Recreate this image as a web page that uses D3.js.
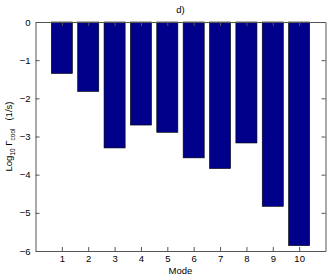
<!DOCTYPE html>
<html>
<head>
<meta charset="utf-8">
<script src="https://cdn.jsdelivr.net/npm/d3@7"></script>
<style>
  body { margin: 0; background: #fff; }
  text { font-family: "Liberation Sans", Arial, sans-serif; fill: #000; }
</style>
</head>
<body>
<svg id="chart" width="327" height="277"></svg>
<script>
// mode numbers and log10 cooling rates
const modes = [1, 2, 3, 4, 5, 6, 7, 8, 9, 10];
const logRates = [-1.35, -1.82, -3.30, -2.70, -2.89, -3.56, -3.84, -3.17, -4.83, -5.86];
const yTicks = [0, -1, -2, -3, -4, -5, -6];

const svg = d3.select("#chart");
const m = { left: 35.5, right: 1.5, top: 22, bottom: 26 };
const W = 327, H = 277;

const x = d3.scaleLinear().domain([0, 11]).range([m.left, W - m.right]);
const y = d3.scaleLinear().domain([-6, 0]).range([H - m.bottom, m.top]);

const data = modes.map((d, i) => ({ mode: d, v: logRates[i] }));
const bw = (x(1) - x(0)) * 0.8;

// bars
svg.append("g").selectAll("rect")
  .data(data)
  .enter()
  .append("rect")
  .attr("x", d => x(d.mode) - bw / 2)
  .attr("y", y(0))
  .attr("width", bw)
  .attr("height", d => y(d.v) - y(0))
  .attr("fill", "#00008a")
  .attr("stroke", "#000")
  .attr("stroke-width", 0.6);

// axes (ticks inward, like matlab)
const axL = d3.axisLeft(y).tickValues(yTicks).tickSizeInner(-4).tickSizeOuter(0).tickPadding(5)
  .tickFormat(d => d === 0 ? "0" : "\u2212" + Math.abs(d));
svg.append("g").attr("transform", `translate(${m.left},0)`).call(axL);

const axR = d3.axisRight(y).tickValues(yTicks).tickSizeInner(-4).tickSizeOuter(0).tickFormat("");
svg.append("g").attr("transform", `translate(${W - m.right},0)`).call(axR);

const axB = d3.axisBottom(x).tickValues(modes).tickSizeInner(-4).tickSizeOuter(0).tickPadding(4);
svg.append("g").attr("transform", `translate(0,${H - m.bottom})`).call(axB);

const axT = d3.axisTop(x).tickValues(modes).tickSizeInner(-4).tickSizeOuter(0).tickFormat("");
svg.append("g").attr("transform", `translate(0,${m.top})`).call(axT);

svg.selectAll(".domain").attr("stroke", "#555");
svg.selectAll(".tick line").attr("stroke", "#555");
svg.selectAll(".tick text").attr("font-size", 9.5).attr("font-family", "Liberation Sans, Arial, sans-serif");

// title + labels
svg.append("text")
  .attr("x", (x(0) + x(11)) / 2).attr("y", 13)
  .attr("text-anchor", "middle").attr("font-size", 9.5)
  .text("d)");

svg.append("text")
  .attr("x", (x(0) + x(11)) / 2).attr("y", 274)
  .attr("text-anchor", "middle").attr("font-size", 9.5)
  .text("Mode");

const yl = svg.append("text")
  .attr("transform", `translate(12,${(y(0) + y(-6)) / 2}) rotate(-90)`)
  .attr("text-anchor", "middle").attr("font-size", 9.5);
yl.append("tspan").text("Log");
yl.append("tspan").attr("font-size", 6.5).attr("dy", 3).text("10");
yl.append("tspan").attr("dy", -3).text(" \u0393");
yl.append("tspan").attr("font-size", 6.5).attr("dy", 3).text("cool");
yl.append("tspan").attr("dy", -3).attr("dx", 8).text("(1/s)");
</script>
</body>
</html>
